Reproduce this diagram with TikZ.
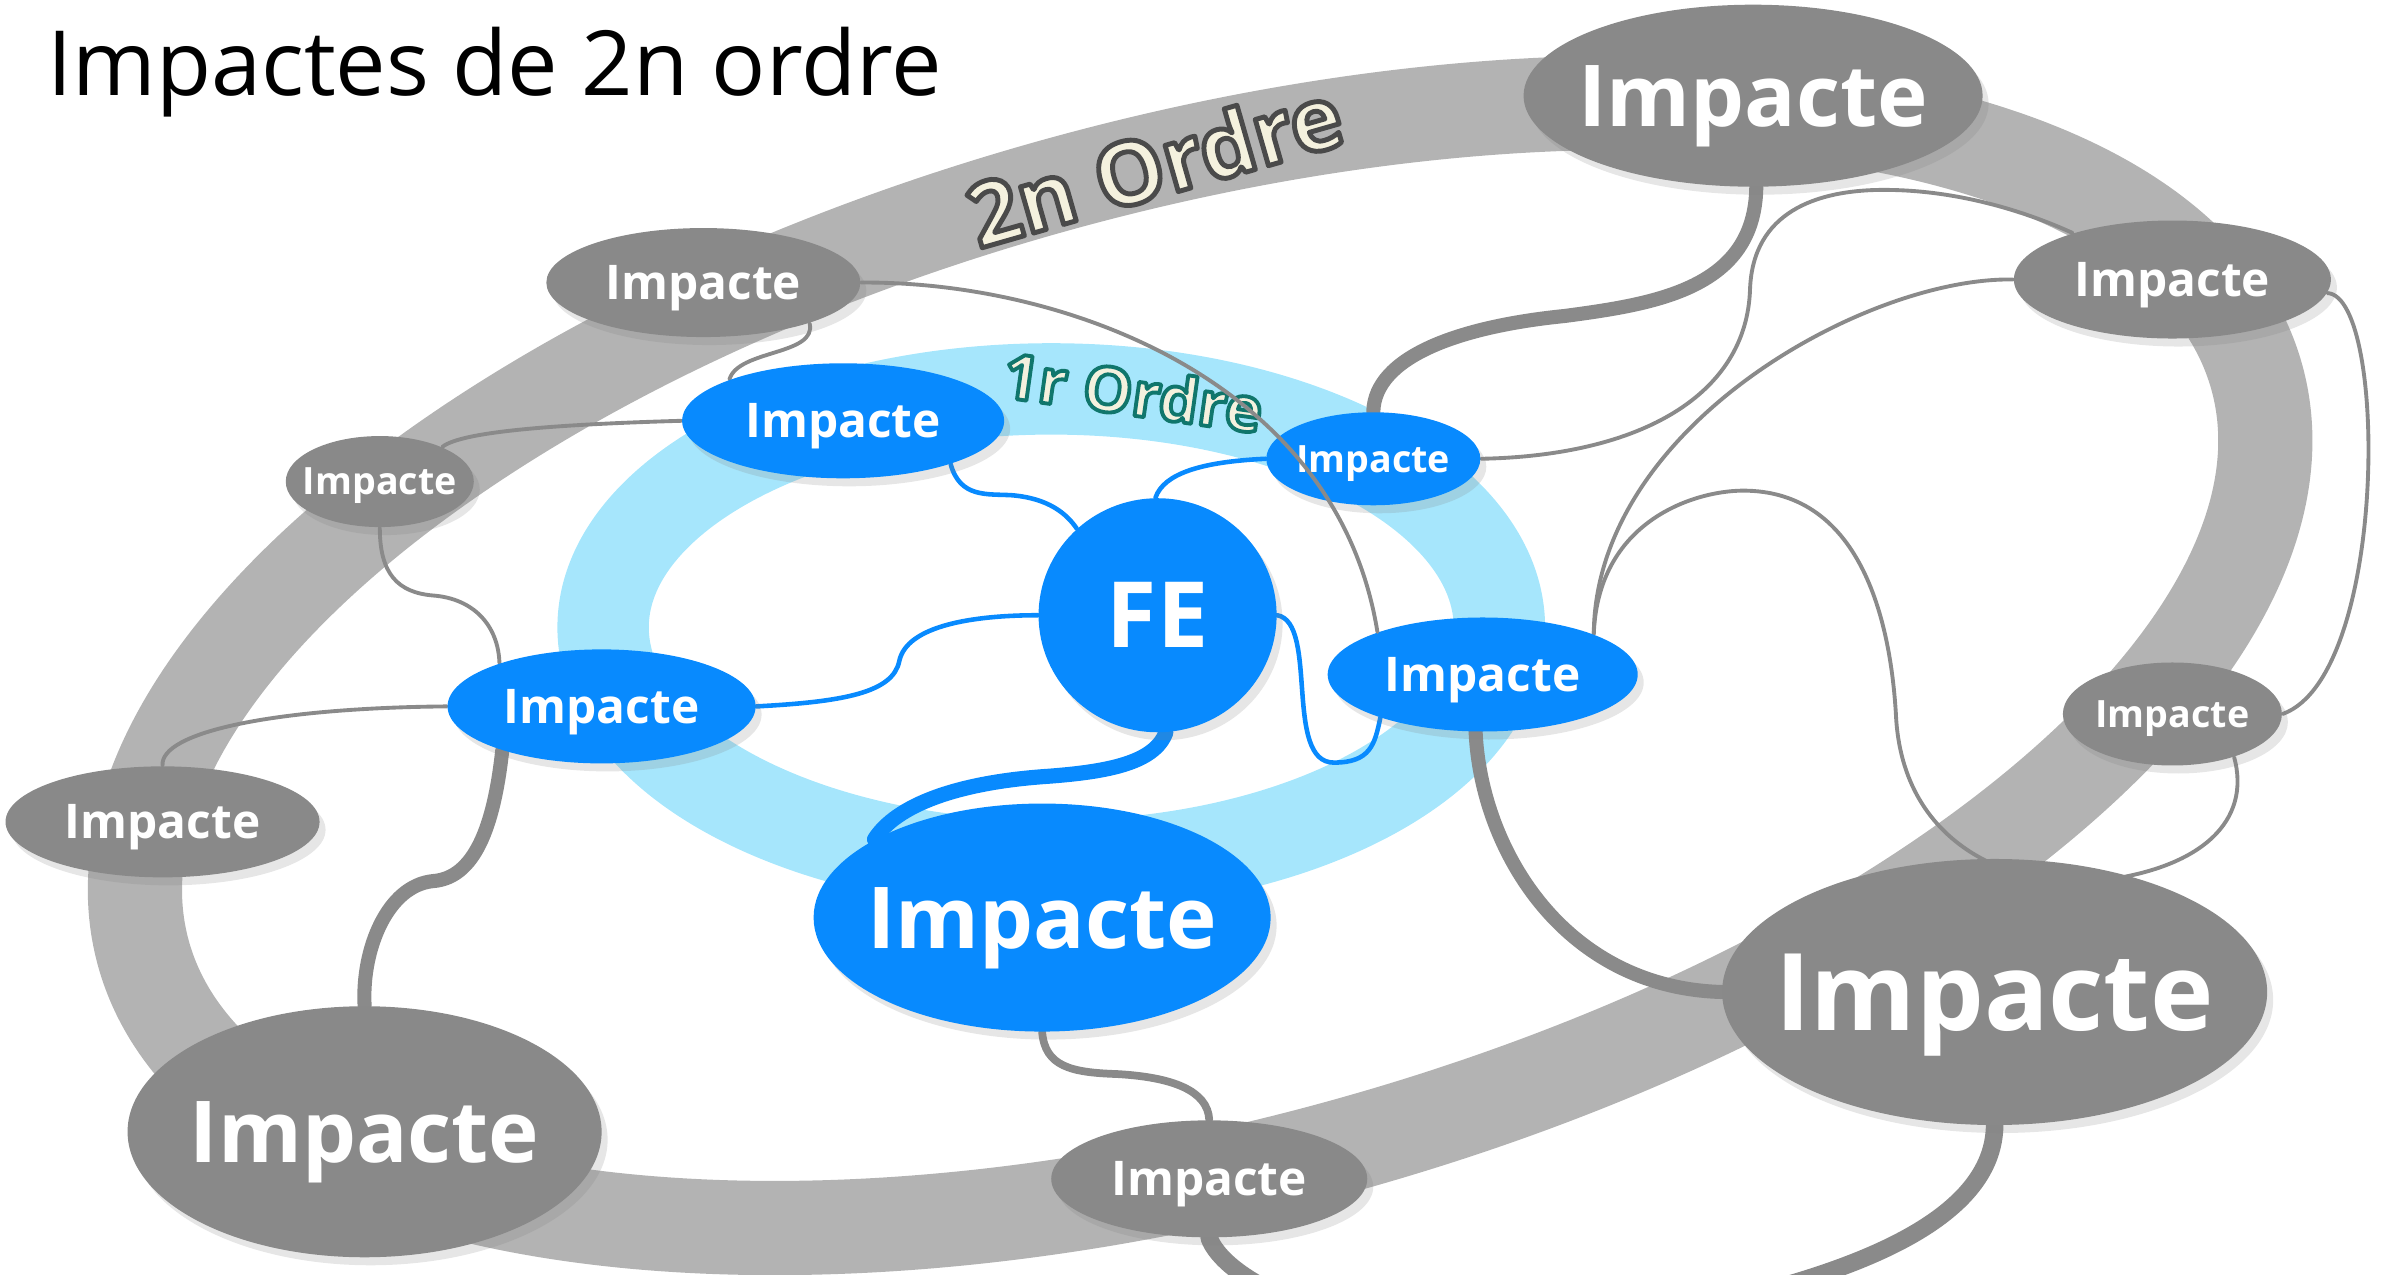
\documentclass[tikz,border=0pt]{standalone}
\usepackage{fontspec}
\setmainfont{Open Sans}
\usetikzlibrary{shapes.geometric,shadows}

\definecolor{ringgray}{HTML}{B3B3B3}
\definecolor{nodegray}{HTML}{898989}
\definecolor{linegray}{HTML}{8A8A8A}
\definecolor{nodeblue}{HTML}{088AFE}
\definecolor{ringblue}{HTML}{A6E6FC}

\pgfdeclarelayer{bg}
\pgfsetlayers{bg,main}

\tikzset{
  impacte/.style={ellipse, inner sep=0pt, text=white, text depth=0pt,
    execute at begin node={\hbox to 0pt\bgroup\hss},
    execute at end node={\hss\egroup},
    drop shadow={shadow xshift=0.6mm, shadow yshift=-0.8mm, opacity=0.2}},
  gris/.style={impacte, fill=nodegray},
  blau/.style={impacte, fill=nodeblue},
  petit/.style={font=\bfseries\fontsize{10.7}{12}\selectfont},
  mitja/.style={font=\bfseries\fontsize{13.6}{16}\selectfont},
  gran/.style={font=\bfseries\fontsize{24.3}{28}\selectfont},
  enorme/.style={font=\bfseries\fontsize{30.5}{34}\selectfont},
  lgris/.style={draw=linegray, line width=1.1pt, line cap=round},
  lgrism/.style={draw=linegray, line width=2.2pt, line cap=round},
  lgrisg/.style={draw=linegray, line width=4pt, line cap=round},
  lblau/.style={draw=nodeblue, line width=1.3pt, line cap=round},
  lblaug/.style={draw=nodeblue, line width=4.3pt, line cap=round},
  % text amb contorn: farciment crema, traç fosc (2 Tr)
  ordre2/.style={inner sep=0pt, font=\bfseries\fontsize{25}{28}\selectfont,
    execute at begin node={\special{pdf:bcolor [0.957 0.945 0.871] [0.29 0.29 0.29]}\special{pdf:literal 1.4 w 1 j 2 Tr}},
    execute at end node={\special{pdf:literal 0 Tr}\special{pdf:ecolor}}},
  ordre1/.style={inner sep=0pt, font=\bfseries\fontsize{17.8}{20}\selectfont,
    execute at begin node={\special{pdf:bcolor [0.957 0.945 0.871] [0.063 0.463 0.424]}\special{pdf:literal 1.1 w 1 j 2 Tr}},
    execute at end node={\special{pdf:literal 0 Tr}\special{pdf:ecolor}}}
}

\begin{document}
\begin{tikzpicture}[x=0.1519mm, y=-0.1519mm]
\useasboundingbox (0,0) rectangle (1568,839);

% titol
\node[anchor=base west, font=\fontsize{25.6}{30}\selectfont] (titol) at (23,63) {Impactes de 2n ordre};

% impactes de 2n ordre
\node[gris, gran, minimum width=45.9mm, minimum height=18.2mm] (g1) at (1154,63) {Impacte};
\node[gris, mitja, minimum width=31.4mm, minimum height=10.9mm] (g2) at (463,186) {Impacte};
\node[gris, petit, minimum width=18.8mm, minimum height=9.1mm] (g3) at (250,317) {Impacte};
\node[gris, mitja, minimum width=31.4mm, minimum height=11.1mm] (g4) at (107,541) {Impacte};
\node[gris, gran, minimum width=47.4mm, minimum height=25.1mm] (g5) at (240,745) {Impacte};
\node[gris, mitja, minimum width=31.6mm, minimum height=11.7mm] (g6) at (796,776) {Impacte};
\node[gris, enorme, minimum width=54.5mm, minimum height=26.6mm] (g7) at (1313,653) {Impacte};
\node[gris, petit, minimum width=21.9mm, minimum height=10.3mm] (g8) at (1430,470) {Impacte};
\node[gris, mitja, minimum width=31.7mm, minimum height=11.8mm] (g9) at (1430,184) {Impacte};

% FE i impactes de 1r ordre
\node[blau, font=\bfseries\fontsize{26}{30}\selectfont, minimum width=23.8mm, minimum height=23.4mm] (fe) at (762,405) {FE};
\node[blau, mitja, minimum width=32.2mm, minimum height=11.5mm] (b1) at (555,277) {Impacte};
\node[blau, petit, minimum width=21.4mm, minimum height=9.3mm] (b2) at (904,302) {Impacte};
\node[blau, mitja, minimum width=30.8mm, minimum height=11.4mm] (b3) at (396,465) {Impacte};
\node[blau, mitja, minimum width=31.0mm, minimum height=11.4mm] (b4) at (976,444) {Impacte};
\node[blau, gran, minimum width=45.7mm, minimum height=22.8mm] (b5) at (686,604) {Impacte};

\begin{pgfonlayer}{bg}
% anells
\draw[ringgray, line width=26.8pt, rotate around={15.2:(790,438)}] (790,438) ellipse [x radius=721, y radius=330];
\draw[ringblue, line width=26pt] (692,413) ellipse [x radius=295, y radius=157];

% connexions blaves
\draw[lblau] (b1.-22) .. controls (632,328) and (650,325) .. (666,326) .. controls (690,328) and (702,338) .. (fe.133);
\draw[lblau] (fe.91) .. controls (766,312) and (790,304) .. (b2.west);
\draw[lblau] (b3.east) .. controls (555,462) and (588,456) .. (592,435) .. controls (597,412) and (640,405) .. (fe.west);
\draw[lblau] (fe.east) .. controls (868,410) and (845,502) .. (878,502) .. controls (902,502) and (905,490) .. (b4.-157);
\draw[lblaug] (fe.-86) .. controls (760,502) and (730,508) .. (690,511) .. controls (630,515) and (590,530) .. (b5.155);

% connexions grises
\draw[lgris] (g2.-21) .. controls (538,234) and (486,230) .. (b1.160);
\draw[lgris] (g3.29) .. controls (305,283) and (380,279) .. (b1.west);
\draw[lgris] (g3.south) .. controls (250,378) and (262,390) .. (285,392) .. controls (312,394) and (328,412) .. (b3.157);
\draw[lgris] (g4.north) .. controls (105,482) and (180,466) .. (b3.west);
\draw[lgrisg] (b3.-156) .. controls (325,545) and (312,578) .. (285,580) .. controls (255,583) and (238,625) .. (g5.north);
\draw[lgrism] (b5.south) .. controls (688,702) and (705,706) .. (735,707) .. controls (772,709) and (795,718) .. (g6.north);
\draw[lgrisg, line width=5pt] (g6.south) .. controls (805,840) and (870,880) .. (1000,880) .. controls (1230,850) and (1312,800) .. (g7.south);
\draw[lgrisg] (b4.-97) .. controls (975,560) and (1030,650) .. (g7.west);
\draw[lgrisg] (g1.-88) .. controls (1155,190) and (1090,200) .. (1030,208) .. controls (960,215) and (905,235) .. (b2.north);
\draw[lgris] (b2.east) .. controls (1080,300) and (1150,260) .. (1152,190) .. controls (1154,140) and (1195,125) .. (1240,125) .. controls (1290,125) and (1335,140) .. (g9.155);
\draw[lgris] (g9.west) .. controls (1230,182) and (1050,280) .. (b4.20);
\draw[lgris] (b4.20) .. controls (1052,340) and (1120,322) .. (1150,323) .. controls (1230,325) and (1245,420) .. (1248,470) .. controls (1252,560) and (1330,585) .. (1380,580) .. controls (1450,572) and (1482,540) .. (g8.-35);
\draw[lgris] (g9.-5) .. controls (1572,195) and (1572,445) .. (g8.east);
\end{pgfonlayer}

% noms dels anells
\node[ordre2, rotate=16] (o2) at (760,108) {2n Ordre};
\node[ordre1, rotate=-8] (o1) at (746,258) {1r Ordre};

\draw[lgris] (g2.east) .. controls (700,185) and (880,250) .. (b4.158);
\end{tikzpicture}
\end{document}
